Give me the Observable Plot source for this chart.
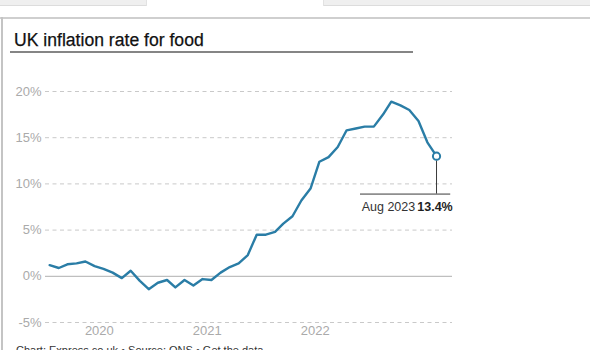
<!DOCTYPE html>
<html>
<head>
<meta charset="utf-8">
<script src="https://cdn.jsdelivr.net/npm/d3@7"></script>
<script src="https://cdn.jsdelivr.net/npm/@observablehq/plot@0.6"></script>
<style>
  html, body { margin: 0; padding: 0; background: #fff; }
  body { width: 590px; height: 350px; position: relative; overflow: hidden; font-family: "Liberation Sans", Arial, Helvetica, sans-serif; }
  .abs { position: absolute; }
  #chart { position: absolute; left: 0; top: 70px; }
</style>
</head>
<body>
<!-- browser-like top strip -->
<div class="abs" style="left:0;top:0;width:590px;height:5px;background:#efefef;border-bottom:1px solid #dcdcdc;"></div>
<div class="abs" style="left:146px;top:0;width:176px;height:6px;background:#fff;border-left:1px solid #e2e2e2;border-right:1px solid #e2e2e2;"></div>
<!-- frame -->
<div class="abs" style="left:0;top:17px;width:590px;height:2px;background:#cfcfcf;"></div>
<div class="abs" style="left:1px;top:17px;width:2px;height:333px;background:#c4c4c4;"></div>
<!-- title -->
<div class="abs" id="title" style="left:14px;top:31px;font-size:17.6px;line-height:18px;color:#111;white-space:nowrap;-webkit-text-stroke:0.25px #111;">UK inflation rate for food</div>
<div class="abs" style="left:10px;top:51px;width:403px;height:2px;background:#858585;"></div>
<div id="chart"></div>
<div class="abs" style="left:16px;top:344px;font-size:11px;line-height:12px;color:#333;white-space:nowrap;">Chart: Express.co.uk • Source: ONS • Get the data</div>
<script>
// ---- data ----
const startMonth = "2020-01";
const values = [
  1.2, 0.9, 1.3, 1.4, 1.6, 1.1, 0.8, 0.4, -0.2, 0.6, -0.5, -1.4,
  -0.7, -0.4, -1.2, -0.4, -1.0, -0.3, -0.4, 0.4, 1.0, 1.4, 2.3, 4.5,
  4.5, 4.8, 5.7, 6.5, 8.2, 9.5, 12.4, 12.9, 14.0, 15.8, 16.0, 16.2,
  16.2, 17.5, 18.9, 18.5, 18.0, 16.8, 14.5, 13.0
];
const yTicks = [-5, 0, 5, 10, 15, 20];
const xTickYears = ["2020", "2021", "2022"];
const annotMonth = ["Aug 2023"];
const annotValueLabel = ["13.4%"];
const annotBaseline = [8.9];
const annotSpan = ["2022-12-01", "2023-10-02"];

// ---- build table ----
const parseUTC = d3.utcParse("%Y-%m");
const first = parseUTC(startMonth);
const dates = d3.utcMonth.range(first, d3.utcMonth.offset(first, values.length)).map(d => d3.utcDay.offset(d, 14));
const data = values.map((v, i) => ({date: dates[i], value: v}));
const last = data[data.length - 1];
const tickDates = xTickYears.map(y => new Date(Date.UTC(+y, 6, 1)));
const span = annotSpan.map(s => d3.utcParse("%Y-%m-%d")(s));

const lineColor = "#2a7da6";
const axisColor = "#aaaaaa";

const chart = Plot.plot({
  width: 590,
  height: 280,
  marginLeft: 45,
  marginRight: 138,
  marginTop: 21,
  marginBottom: 28,
  style: {fontFamily: '"Liberation Sans", Arial, Helvetica, sans-serif', background: "transparent", overflow: "visible"},
  x: {type: "utc", domain: [new Date(Date.UTC(2020, 0, 1)), new Date(Date.UTC(2023, 9, 8))]},
  y: {domain: [-5, 20]},
  marks: [
    Plot.ruleY(yTicks.filter(v => v !== 0), {stroke: "#c9c9c9", strokeWidth: 1, strokeDasharray: "4,3.5"}),
    Plot.ruleY([0], {stroke: "#bfbfbf", strokeWidth: 1.3}),
    Plot.axisY(yTicks, {tickSize: 0, tickPadding: 4, tickFormat: d => d + "%", color: axisColor, fontSize: 13, label: null}),
    Plot.axisX(tickDates, {tickSize: 0, tickPadding: 3, tickFormat: d3.utcFormat("%Y"), color: axisColor, fontSize: 13, label: null}),
    Plot.line(data, {x: "date", y: "value", stroke: lineColor, strokeWidth: 2.4}),
    // annotation connector
    Plot.ruleX([last], {x: "date", y1: d => d.value - 0.5, y2: annotBaseline[0], stroke: "#3a3a3a", strokeWidth: 1}),
    Plot.ruleY(annotBaseline, {x1: span[0], x2: span[1], stroke: "#3a3a3a", strokeWidth: 1}),
    Plot.dot([last], {x: "date", y: "value", r: 3.6, fill: "white", stroke: lineColor, strokeWidth: 2}),
    Plot.text(annotValueLabel, {x: span[1], y: annotBaseline[0], text: d => d, dx: 2, dy: 12.5, textAnchor: "end", fontWeight: "bold", fontSize: 12.5, fill: "#1e1e1e"}),
    Plot.text(annotMonth, {x: span[1], y: annotBaseline[0], text: d => d, dx: -35.5, dy: 12.5, textAnchor: "end", fontSize: 12.5, fill: "#333"})
  ]
});
document.getElementById("chart").appendChild(chart);
</script>
</body>
</html>
